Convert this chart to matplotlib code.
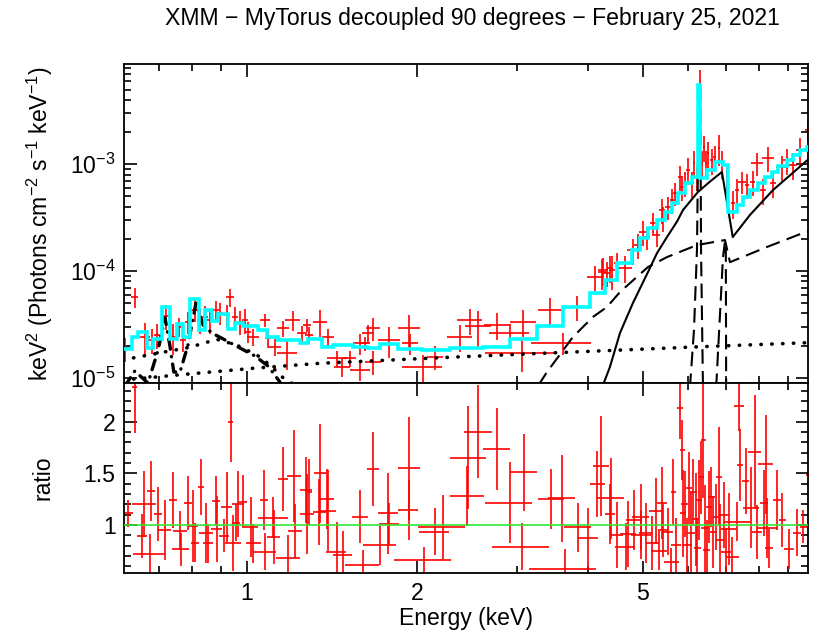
import numpy as np
import matplotlib
matplotlib.use('Agg')
import matplotlib.pyplot as plt
from matplotlib.ticker import FixedLocator, NullFormatter, MultipleLocator, FuncFormatter

# ============================================
# FONTES
# ============================================
plt.rcParams['font.family'] = ['Liberation Sans', 'DejaVu Sans']
plt.rcParams['mathtext.fontset'] = 'custom'
plt.rcParams['mathtext.rm'] = 'Liberation Sans'
plt.rcParams['mathtext.it'] = 'Liberation Sans:italic'
plt.rcParams['font.size'] = 16.6

# ============================================
# DADOS - painel de cima (keV^2 Photons cm^-2 s^-1 keV^-1)
# ============================================
dados_e = [0.610, 0.635, 0.662, 0.681, 0.695, 0.721, 0.741, 0.760, 0.772, 0.788,
           0.811, 0.827, 0.844, 0.862, 0.883, 0.897, 0.923, 0.934, 0.954, 0.973,
           0.993, 1.005, 1.026, 1.077, 1.090, 1.122, 1.159, 1.178, 1.207, 1.252,
           1.277, 1.288, 1.347, 1.391, 1.443, 1.473, 1.521, 1.585, 1.585, 1.617,
           1.636, 1.670, 1.670, 1.782, 1.933, 1.941, 2.046, 2.148, 2.378, 2.476,
           2.558, 2.763, 2.913, 3.072, 3.059, 3.427, 3.613, 3.825, 4.115, 4.234,
           4.251, 4.320, 4.373, 4.409, 4.499, 4.648, 4.801, 4.899, 5.000, 5.082,
           5.207, 5.293, 5.401, 5.423, 5.534, 5.625, 5.694, 5.811, 5.859, 5.931,
           6.003, 6.101, 6.151, 6.226, 6.302, 6.353, 6.405, 6.457, 6.510, 6.616,
           6.697, 6.808, 6.891, 7.032, 7.206, 7.324, 7.474, 7.627, 7.816, 7.943,
           8.139, 8.306, 8.476, 8.793, 8.973, 9.194, 9.458, 9.771]
dados_de = [0.012, 0.009, 0.013, 0.010, 0.009, 0.015, 0.012, 0.010, 0.009, 0.010,
            0.013, 0.010, 0.010, 0.010, 0.011, 0.010, 0.011, 0.015, 0.011, 0.011,
            0.011, 0.012, 0.025, 0.022, 0.013, 0.027, 0.028, 0.048, 0.037, 0.025,
            0.020, 0.020, 0.038, 0.034, 0.059, 0.048, 0.040, 0.045, 0.064, 0.033,
            0.040, 0.047, 0.054, 0.080, 0.086, 0.063, 0.166, 0.070, 0.120, 0.130,
            0.135, 0.146, 0.236, 0.162, 0.430, 0.167, 0.440, 0.200, 0.134, 0.070,
            0.090, 0.060, 0.060, 0.060, 0.060, 0.130, 0.120, 0.080, 0.070, 0.070,
            0.070, 0.060, 0.060, 0.050, 0.060, 0.050, 0.050, 0.050, 0.040, 0.040,
            0.040, 0.040, 0.030, 0.030, 0.030, 0.030, 0.030, 0.030, 0.030, 0.040,
            0.040, 0.040, 0.040, 0.040, 0.060, 0.060, 0.130, 0.060, 0.080, 0.200,
            0.100, 0.200, 0.100, 0.200, 0.150, 0.150, 0.150, 0.100]
dados_f = [1.89e-5, 5.67e-5, 2.42e-5, 2.26e-5, 2.51e-5, 3.79e-5, 2.42e-5, 3.01e-5, 2.26e-5, 3.35e-5,
           4.31e-5, 3.47e-5, 3.73e-5, 3.47e-5, 4.31e-5, 4.07e-5, 3.87e-5, 5.74e-5, 3.73e-5, 3.35e-5,
           3.47e-5, 2.70e-5, 2.42e-5, 3.47e-5, 2.34e-5, 1.95e-5, 2.90e-5, 1.69e-5, 3.47e-5, 2.61e-5,
           3.12e-5, 2.51e-5, 3.35e-5, 2.42e-5, 1.52e-5, 1.27e-5, 1.52e-5, 2.10e-5, 1.18e-5, 2.11e-5,
           2.62e-5, 2.90e-5, 1.41e-5, 2.26e-5, 2.90e-5, 2.10e-5, 1.27e-5, 1.57e-5, 2.42e-5, 3.47e-5,
           3.05e-5, 3.12e-5, 2.61e-5, 3.35e-5, 1.69e-5, 4.31e-5, 2.13e-5, 4.63e-5, 8.84e-5, 9.85e-5,
           1.02e-4, 9.52e-5, 1.07e-4, 1.02e-4, 1.19e-4, 1.07e-4, 1.57e-4, 1.75e-4, 2.32e-4, 2.08e-4,
           2.82e-4, 2.18e-4, 3.73e-4, 3.14e-4, 3.98e-4, 4.63e-4, 5.38e-4, 7.60e-4, 6.13e-4, 6.68e-4,
           8.84e-4, 6.68e-4, 1.03e-3, 7.60e-4, 5.53e-3, 1.03e-3, 1.45e-3, 1.03e-3, 1.28e-3, 1.10e-3,
           1.17e-3, 1.42e-3, 1.03e-3, 7.60e-4, 4.34e-4, 5.74e-4, 6.82e-4, 6.40e-4, 6.82e-4, 1.03e-3,
           5.74e-4, 1.15e-3, 6.68e-4, 9.44e-4, 1.10e-3, 9.85e-4, 1.36e-3, 2.10e-3]
dados_df = [0.49e-5, 1.2e-5, 0.84e-5, 0.6e-5, 0.65e-5, 1.0e-5, 0.8e-5, 0.6e-5, 0.5e-5, 0.8e-5,
            1.0e-5, 0.9e-5, 0.95e-5, 0.9e-5, 0.95e-5, 0.95e-5, 0.9e-5, 1.1e-5, 0.9e-5, 0.85e-5,
            0.9e-5, 0.6e-5, 0.45e-5, 0.5e-5, 0.45e-5, 0.35e-5, 0.5e-5, 0.5e-5, 0.75e-5, 0.45e-5,
            0.45e-5, 0.45e-5, 0.95e-5, 0.47e-5, 0.26e-5, 0.25e-5, 0.26e-5, 0.45e-5, 0.25e-5, 0.32e-5,
            0.5e-5, 0.7e-5, 0.36e-5, 0.73e-5, 0.94e-5, 0.45e-5, 0.38e-5, 0.4e-5, 0.68e-5, 0.97e-5,
            1.2e-5, 0.88e-5, 0.56e-5, 0.94e-5, 0.55e-5, 1.3e-5, 0.5e-5, 1.2e-5, 2.3e-5, 3.2e-5,
            3.0e-5, 2.5e-5, 3.0e-5, 3.5e-5, 3.0e-5, 3.0e-5, 4.4e-5, 4.5e-5, 6.0e-5, 5.0e-5,
            7.0e-5, 5.0e-5, 1.0e-4, 8.0e-5, 1.0e-4, 1.2e-4, 1.3e-4, 2.0e-4, 1.6e-4, 1.7e-4,
            2.5e-4, 1.8e-4, 3.0e-4, 2.0e-4, 2.2e-3, 3.0e-4, 4.0e-4, 3.0e-4, 3.5e-4, 3.0e-4,
            3.2e-4, 4.5e-4, 3.0e-4, 2.5e-4, 1.3e-4, 1.6e-4, 1.6e-4, 1.7e-4, 1.8e-4, 2.5e-4,
            1.6e-4, 3.0e-4, 1.8e-4, 2.5e-4, 3.0e-4, 2.8e-4, 4.0e-4, 4.5e-4]

# ============================================
# MODELO TOTAL (histograma ciano)
# ============================================
modelo_bordas = [0.605, 0.628, 0.643, 0.667, 0.684, 0.709, 0.732, 0.754, 0.772, 0.794,
                 0.824, 0.844, 0.869, 0.890, 0.927, 0.954, 0.985, 1.047, 1.086, 1.136,
                 1.242, 1.283, 1.358, 1.420, 1.540, 1.636, 1.718, 1.849, 2.038, 2.284,
                 2.611, 2.913, 3.251, 3.613, 4.032, 4.284, 4.499, 4.781, 4.940, 5.103,
                 5.292, 5.467, 5.625, 5.764, 5.930, 6.100, 6.250, 6.300, 6.480, 6.700,
                 6.920, 7.060, 7.320, 7.500, 7.720, 7.980, 8.210, 8.440, 8.650, 8.970,
                 9.190, 9.460, 9.730, 9.970]
modelo_total = [1.85e-5, 2.42e-5, 2.70e-5, 1.89e-5, 2.29e-5, 4.63e-5, 2.29e-5, 3.19e-5, 2.42e-5, 5.43e-5,
                2.80e-5, 4.31e-5, 3.40e-5, 3.95e-5, 2.84e-5, 3.28e-5, 3.05e-5, 2.80e-5, 2.39e-5, 2.26e-5,
                2.13e-5, 2.32e-5, 1.95e-5, 2.02e-5, 1.94e-5, 1.91e-5, 2.07e-5, 1.85e-5, 1.82e-5, 1.88e-5,
                1.95e-5, 2.29e-5, 3.05e-5, 4.57e-5, 6.18e-5, 8.23e-5, 1.19e-4, 1.57e-4, 2.04e-4, 2.53e-4,
                3.01e-4, 3.57e-4, 4.34e-4, 5.38e-4, 6.68e-4, 7.60e-4, 5.53e-3, 7.44e-4, 8.84e-4, 1.05e-3,
                9.85e-4, 3.57e-4, 4.15e-4, 4.94e-4, 5.74e-4, 6.68e-4, 7.60e-4, 8.47e-4, 9.64e-4, 1.097e-3,
                1.22e-3, 1.36e-3, 1.45e-3]

# componentes do modelo
transm_e = [4.25, 4.372, 4.554, 4.80, 5.103, 5.293, 5.512, 5.74, 5.883, 6.25, 6.56, 6.89,
            7.20, 7.72, 8.48, 9.85, 10.0]
transm_f = [8.5e-6, 1.26e-5, 2.62e-5, 5.01e-5, 9.78e-5, 1.47e-4, 2.08e-4, 2.90e-4, 3.73e-4,
            5.50e-4, 6.87e-4, 8.47e-4, 2.08e-4, 3.35e-4, 5.74e-4, 1.146e-3, 1.19e-3]

espalh_e = [3.27, 3.386, 3.763, 4.081, 4.320, 4.554, 5.103, 5.512, 6.226, 6.976, 7.119,
            8.275, 9.575, 9.97]
espalh_f = [8.5e-6, 1.13e-5, 2.41e-5, 3.71e-5, 4.60e-5, 6.35e-5, 1.09e-4, 1.35e-4, 1.75e-4,
            1.95e-4, 1.21e-4, 1.68e-4, 2.27e-4, 2.42e-4]

linhas_e = [6.05, 6.151, 6.226, 6.275, 6.31, 6.33, 6.38, np.nan,
            6.73, 6.92, 6.976, 7.00, 7.01]
linhas_f = [8.0e-6, 2.80e-5, 1.57e-4, 5.53e-3, 5.53e-3, 1.57e-4, 8.0e-6, np.nan,
            8.0e-6, 1.35e-4, 1.90e-4, 1.60e-4, 8.0e-6]

pl_e = [0.605, 0.785, 1.026, 1.347, 2.378, 3.29, 6.30, 10.0]
pl_f = [9.5e-6, 1.08e-5, 1.225e-5, 1.365e-5, 1.57e-5, 1.69e-5, 1.95e-5, 2.14e-5]

term_e = [0.605, 0.703, 0.794, 0.886, 0.961, 1.043, 1.099, 1.154, 1.207, 1.26]
term_f = [1.47e-5, 1.71e-5, 1.93e-5, 2.29e-5, 2.02e-5, 1.63e-5, 1.32e-5, 1.02e-5, 8.7e-6, 7.0e-6]

apec_e = [0.61, 0.635, 0.670, 0.698, 0.718, 0.732, 0.744, 0.763, 0.788, 0.814,
          0.838, 0.869, 0.916, 0.973, 1.034, 1.090, 1.145, 1.168]
apec_f = [8.36e-6, 1.156e-5, 8.9e-6, 1.82e-5, 3.63e-5, 2.02e-5, 1.13e-5, 1.13e-5, 2.02e-5, 5.01e-5,
          3.12e-5, 2.62e-5, 2.26e-5, 1.90e-5, 1.60e-5, 1.29e-5, 9.1e-6, 7.0e-6]

# ============================================
# DADOS - painel de baixo (razao)
# ============================================
razao_e = [0.618, 0.635, 0.660, 0.655, 0.675, 0.678, 0.698, 0.717, 0.742, 0.763,
           0.766, 0.787, 0.805, 0.811, 0.831, 0.848, 0.856, 0.883, 0.885, 0.912,
           0.922, 0.938, 0.947, 0.957, 0.966, 0.986, 1.018, 1.027, 1.073, 1.077,
           1.114, 1.117, 1.160, 1.184, 1.212, 1.217, 1.272, 1.279, 1.288, 1.347,
           1.343, 1.387, 1.393, 1.441, 1.476, 1.585, 1.602, 1.673, 1.718, 1.777,
           1.784, 1.934, 1.930, 2.055, 2.148, 2.216, 2.450, 2.460, 2.559, 2.760,
           2.910, 3.085, 3.063, 3.445, 3.594, 3.638, 3.840, 3.999, 4.153, 4.221,
           4.385, 4.373, 4.494, 4.661, 4.705, 4.821, 4.954, 4.966, 5.055, 5.193,
           5.265, 5.336, 5.408, 5.430, 5.534, 5.610, 5.655, 5.710, 5.811, 5.866,
           5.880, 5.923, 5.970, 6.027, 6.068, 6.133, 6.192, 6.232, 6.275, 6.335,
           6.386, 6.423, 6.475, 6.537, 6.598, 6.653, 6.718, 6.808, 6.836, 6.947,
           6.995, 7.089, 7.185, 7.333, 7.384, 7.413, 7.587, 7.762, 7.870, 7.952,
           8.172, 8.229, 8.282, 8.339, 8.607, 8.804, 9.047, 9.333, 9.587, 9.811]
razao_de = [0.0125, 0.007, 0.031, 0.013, 0.044, 0.011, 0.011, 0.019, 0.012, 0.021,
            0.026, 0.013, 0.016, 0.013, 0.011, 0.023, 0.017, 0.014, 0.018, 0.019,
            0.022, 0.010, 0.032, 0.016, 0.024, 0.016, 0.030, 0.031, 0.017, 0.051,
            0.068, 0.030, 0.024, 0.056, 0.033, 0.033, 0.031, 0.035, 0.017, 0.033,
            0.036, 0.038, 0.047, 0.058, 0.056, 0.054, 0.108, 0.041, 0.116, 0.072,
            0.072, 0.086, 0.078, 0.236, 0.131, 0.210, 0.170, 0.180, 0.145, 0.149,
            0.276, 0.167, 0.352, 0.186, 0.195, 0.490, 0.208, 0.162, 0.124, 0.143,
            0.237, 0.089, 0.122, 0.189, 0.159, 0.163, 0.168, 0.202, 0.137, 0.141,
            0.142, 0.180, 0.110, 0.110, 0.112, 0.167, 0.061, 0.116, 0.063, 0.063,
            0.079, 0.080, 0.121, 0.065, 0.099, 0.083, 0.084, 0.084, 0.068, 0.069,
            0.069, 0.087, 0.088, 0.088, 0.089, 0.090, 0.073, 0.092, 0.111, 0.141,
            0.142, 0.211, 0.194, 0.397, 0.150, 0.100, 0.103, 0.263, 0.213, 0.161,
            0.133, 0.245, 0.336, 0.135, 0.140, 0.119, 0.184, 0.152, 0.130, 0.106]
razao = [1.113, 2.340, 1.203, 0.894, 0.719, 1.332, 1.103, 0.952, 1.242, 0.945,
         0.765, 1.216, 0.990, 0.829, 1.365, 0.926, 0.823, 1.235, 0.965, 0.894,
         1.171, 1.997, 0.823, 1.023, 1.203, 1.226, 0.977, 0.823, 1.242, 0.742,
         1.071, 0.881, 1.442, 0.677, 1.474, 0.945, 1.339, 1.106, 1.323, 1.500,
         1.129, 1.248, 1.139, 0.742, 0.710, 1.081, 0.610, 1.539, 0.803, 1.113,
         1.010, 1.548, 1.145, 0.661, 0.935, 0.984, 1.284, 1.652, 1.903, 1.735,
         1.216, 1.510, 0.790, 1.248, 1.258, 0.577, 0.977, 0.871, 1.397, 1.571,
         1.258, 1.103, 0.903, 0.790, 0.910, 1.048, 1.074, 0.903, 0.919, 0.823,
         1.135, 0.752, 1.210, 0.952, 0.935, 0.645, 1.316, 0.806, 2.129, 1.726,
         1.113, 1.200, 0.806, 1.355, 0.926, 1.323, 1.055, 0.774, 1.242, 1.461,
         1.823, 0.968, 0.758, 1.177, 1.268, 0.935, 1.081, 1.468, 0.855, 1.097,
         0.742, 0.958, 0.694, 1.032, 2.152, 1.580, 1.429, 1.168, 1.710, 0.929,
         1.216, 1.587, 0.974, 0.774, 1.242, 1.048, 0.768, 0.926, 0.984, 1.484]
razao_dr = [0.13, 0.45, 0.32, 0.21, 0.19, 0.29, 0.26, 0.29, 0.27, 0.19,
            0.16, 0.26, 0.35, 0.19, 0.27, 0.29, 0.19, 0.24, 0.32, 0.16,
            0.34, 0.39, 0.27, 0.18, 0.32, 0.26, 0.29, 0.19, 0.29, 0.18,
            0.20, 0.26, 0.31, 0.23, 0.45, 0.26, 0.32, 0.39, 0.32, 0.48,
            0.32, 0.29, 0.39, 0.29, 0.23, 0.26, 0.15, 0.36, 0.19, 0.39,
            0.20, 0.50, 0.29, 0.13, 0.23, 0.31, 0.29, 0.50, 0.45, 0.40,
            0.39, 0.37, 0.23, 0.29, 0.42, 0.19, 0.24, 0.29, 0.32, 0.48,
            0.39, 0.29, 0.32, 0.23, 0.32, 0.29, 0.32, 0.23, 0.29, 0.26,
            0.32, 0.19, 0.35, 0.26, 0.23, 0.13, 0.32, 0.26, 0.30, 0.29,
            0.42, 0.32, 0.26, 0.35, 0.39, 0.32, 0.45, 0.29, 0.39, 0.35,
            0.56, 0.42, 0.29, 0.35, 0.29, 0.35, 0.32, 0.48, 0.35, 0.32,
            0.23, 0.35, 0.19, 0.19, 0.24, 0.35, 0.32, 0.39, 0.55, 0.26,
            0.32, 0.48, 0.29, 0.19, 0.29, 0.26, 0.19, 0.23, 0.16, 0.32]

ticks_x = [1, 2, 5]
ticks_x_menores = [0.7, 0.8, 0.9, 3, 4, 6, 7, 8, 9]

# ============================================
# FIGURA
# ============================================
fig = plt.figure(figsize=(8.14, 6.31), dpi=100)
ax1 = fig.add_axes([0.1523, 0.3935, 0.8403, 0.5051])
ax2 = fig.add_axes([0.1523, 0.0914, 0.8403, 0.3021], sharex=ax1)

# painel de cima
ax1.errorbar(dados_e, dados_f, xerr=dados_de, yerr=dados_df, fmt='none',
             ecolor='red', elinewidth=1.2, capsize=0, zorder=2)
ax1.stairs(modelo_total, modelo_bordas, color='cyan', linewidth=2.6, zorder=4, baseline=None)
ax1.plot(transm_e, transm_f, color='black', linewidth=1.5, zorder=3)
ax1.plot(espalh_e, espalh_f, color='black', linewidth=1.5, dashes=(7, 3.5), zorder=3)
ax1.plot(linhas_e, linhas_f, color='black', linewidth=1.5, dashes=(7, 3.5), zorder=3)
ax1.plot(pl_e, pl_f, color='black', linewidth=2.6, dashes=(0.1, 2.9),
         dash_capstyle='round', zorder=3)
ax1.plot(term_e, term_f, color='black', linewidth=2.6, dashes=(0.1, 2.9),
         dash_capstyle='round', zorder=3)
ax1.plot(apec_e, apec_f, color='black', linewidth=2.4, dashes=(3, 2.2, 0.1, 2.2),
         dash_capstyle='round', zorder=3)

ax1.set_xscale('log')
ax1.set_yscale('log')
ax1.set_xlim(0.6077, 9.772)
ax1.set_ylim(8.98e-6, 8.71e-3)
ax1.set_ylabel(r'keV$^{2}$ (Photons cm$^{-2}$ s$^{-1}$ keV$^{-1}$)')
ax1.yaxis.set_label_coords(-0.101, 0.5)
ax1.yaxis.set_minor_formatter(NullFormatter())

# painel de baixo
ax2.errorbar(razao_e, razao, xerr=razao_de, yerr=razao_dr, fmt='none',
             ecolor='red', elinewidth=1.2, capsize=0, zorder=2)
ax2.axhline(1.0, color='#33e633', linewidth=1.2, zorder=3)
ax2.set_ylim(0.532, 2.377)
ax2.yaxis.set_major_locator(MultipleLocator(0.5))
ax2.yaxis.set_minor_locator(MultipleLocator(0.1))
ax2.yaxis.set_major_formatter(FuncFormatter(lambda v, p: '%g' % v))
ax2.set_ylabel('ratio')
ax2.yaxis.set_label_coords(-0.101, 0.5)
ax2.set_xlabel('Energy (keV)', labelpad=2)

ax2.xaxis.set_major_locator(FixedLocator(ticks_x))
ax2.xaxis.set_minor_locator(FixedLocator(ticks_x_menores))
ax2.xaxis.set_major_formatter(FuncFormatter(lambda v, p: '%g' % v))
ax2.xaxis.set_minor_formatter(NullFormatter())

for ax in [ax1, ax2]:
    ax.tick_params(which='both', direction='in', top=True, right=True, width=1.2)
    ax.tick_params(which='major', length=9, pad=6)
    ax.tick_params(which='minor', length=5)
    for lado in ax.spines.values():
        lado.set_linewidth(1.3)
ax1.tick_params(labelbottom=False)

fig.text(0.58, 1 - 19 / 631, 'XMM \u2212 MyTorus decoupled 90 degrees \u2212 February 25, 2021',
         ha='center', va='center', fontsize=16.6)

plt.savefig('out.png', dpi=100)
print("Grafico salvo: out.png")
